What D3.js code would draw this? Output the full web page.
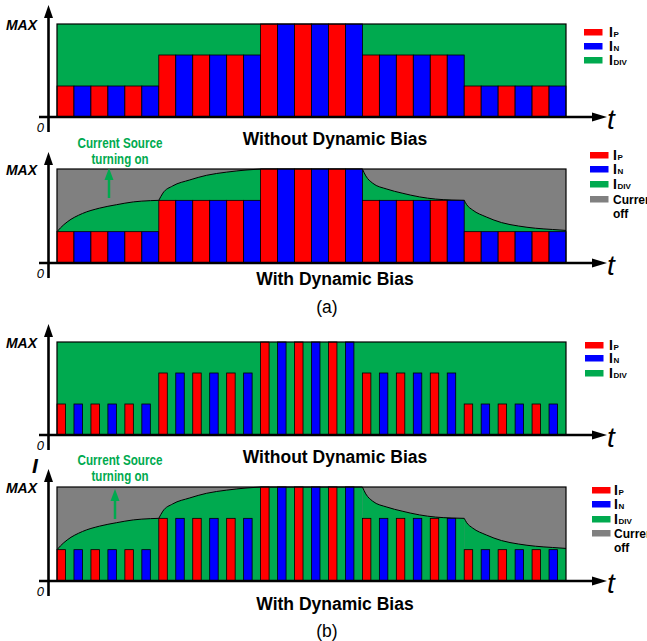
<!DOCTYPE html>
<html><head><meta charset="utf-8">
<script src="https://cdn.jsdelivr.net/npm/d3@7"></script>
<style>body{margin:0;background:#fff}svg{display:block}</style>
</head><body>
<svg id="c" width="647" height="641"></svg>
<script>
// ---- data ----
const slotCount = 30;
const barLevels = [1,1,1,1,1,1, 2,2,2,2,2,2, 3,3,3,3,3,3, 2,2,2,2,2,2, 1,1,1,1,1,1];
const barCurrents = ["P","N","P","N","P","N", "P","N","P","N","P","N", "P","N","P","N","P","N",
                     "P","N","P","N","P","N", "P","N","P","N","P","N"];
const levelMax = 3;
// dynamic-bias envelope of I_DIV (slot position, level)
const envRise1  = [[0,1.0],[0.2,1.12],[0.6,1.31],[1.5,1.58],[2.5,1.75],[3.5,1.86],[4.5,1.95],[5.5,1.99],[6,2.0]];
const envRise2  = [[6,2.0],[6.24,2.23],[6.82,2.46],[7.82,2.65],[8.82,2.8],[10,2.9],[11.2,2.97],[12,3.0]];
const envFlat   = [[12,3.0],[18,3.0]];
const envDecay1 = [[18,3.0],[18.2,2.78],[18.6,2.55],[19.44,2.36],[20.34,2.23],[21.36,2.11],[22.32,2.04],[23.28,2.01],[24,2.0]];
const envDecay2 = [[24,2.0],[24.15,1.86],[24.5,1.69],[25.3,1.47],[26.2,1.29],[27.2,1.18],[28.2,1.11],[29.2,1.07],[30,1.04]];
const envelope = [envRise1, envRise2, envFlat, envDecay1, envDecay2];
const legendLabels = [["I","P"],["I","N"],["I","DIV"]];
const legendOff = ["Current","off"];
const titles = ["Without Dynamic Bias","With Dynamic Bias","Without Dynamic Bias","With Dynamic Bias"];
const sourceNote = ["Current Source","turning on"];
const captions = ["(a)","(b)"];

// ---- styles ----
const colors = {P:"#ff0000", N:"#0000ff", DIV:"#00aa4f", OFF:"#808080"};
const green = colors.DIV;
const svg = d3.select("#c");

const panels = [
  {top:24,  base:117, dyn:false, half:false, axisTop:5,   legX:584, legY:[29,43,57],      labX:609, titleY:145},
  {top:169, base:263, dyn:true,  half:false, axisTop:152, legX:590, legY:[152,166,181,196], labX:613, titleY:285, noteY:148, arrowX:109, arrowBottom:198},
  {top:342, base:435, dyn:false, half:true,  axisTop:324, legX:585, legY:[342,355,370],   labX:609, titleY:463},
  {top:487, base:581, dyn:true,  half:true,  axisTop:469, legX:592, legY:[487,501,516,530], labX:614, titleY:610, noteY:465, arrowX:115, arrowBottom:519}
];

const xs = d3.scaleLinear().domain([0, slotCount]).range([57, 566]);

panels.forEach((p, pi) => {
  const g = svg.append("g");
  const ys = d3.scaleLinear().domain([0, levelMax]).range([p.base, p.top]);

  // background
  g.append("rect").attr("x", xs(0)).attr("y", ys(levelMax))
    .attr("width", xs(slotCount) - xs(0)).attr("height", ys(0) - ys(levelMax))
    .attr("fill", p.dyn ? colors.OFF : green);

  if (p.dyn) {
    const area = d3.area().x(d => xs(d[0])).y0(ys(0)).y1(d => ys(d[1])).curve(d3.curveMonotoneX);
    const line = d3.line().x(d => xs(d[0])).y(d => ys(d[1])).curve(d3.curveMonotoneX);
    envelope.forEach(seg => {
      g.append("path").attr("d", area(seg)).attr("fill", green);
    });
    envelope.forEach(seg => {
      g.append("path").attr("d", line(seg)).attr("fill", "none").attr("stroke", "#000").attr("stroke-width", 1);
    });
  }

  // bars
  g.selectAll("rect.bar").data(barLevels).join("rect").attr("class", "bar")
    .attr("x", (d, i) => xs(i))
    .attr("width", (d, i) => (xs(i + 1) - xs(i)) * (p.half ? 0.5 : 1))
    .attr("y", d => ys(d))
    .attr("height", d => ys(0) - ys(d))
    .attr("fill", (d, i) => colors[barCurrents[i]])
    .attr("stroke", "#000").attr("stroke-width", 0.8);

  // box outline
  g.append("rect").attr("x", xs(0)).attr("y", ys(levelMax))
    .attr("width", xs(slotCount) - xs(0)).attr("height", ys(0) - ys(levelMax))
    .attr("fill", "none").attr("stroke", "#000").attr("stroke-width", 1.2);

  // axes
  const ax = 48.5;
  g.append("line").attr("x1", ax).attr("x2", ax).attr("y1", p.base + 15).attr("y2", p.axisTop + 10)
    .attr("stroke", "#000").attr("stroke-width", 2.6);
  g.append("path").attr("d", `M${ax},${p.axisTop} L${ax - 4.5},${p.axisTop + 13} L${ax + 4.5},${p.axisTop + 13} Z`).attr("fill", "#000");
  g.append("line").attr("x1", 39).attr("x2", 596).attr("y1", ys(0)).attr("y2", ys(0))
    .attr("stroke", "#000").attr("stroke-width", 2.4);
  g.append("path").attr("d", `M607,${ys(0)} L592,${ys(0) - 4.5} L592,${ys(0) + 4.5} Z`).attr("fill", "#000");

  g.append("text").attr("x", 37).attr("y", ys(levelMax) + 5.5).attr("text-anchor", "end")
    .attr("font-family", "Liberation Sans, Arial, sans-serif").attr("font-weight", "bold")
    .attr("font-style", "italic").attr("font-size", 14).text("MAX");
  g.append("text").attr("x", 44).attr("y", ys(0) + 15).attr("text-anchor", "end")
    .attr("font-family", "Liberation Sans, Arial, sans-serif").attr("font-style", "italic")
    .attr("font-size", 13).text("0");
  g.append("text").attr("x", 607).attr("y", ys(0) + 11.5)
    .attr("font-family", "Liberation Sans, Arial, sans-serif").attr("font-style", "italic")
    .attr("font-size", 28).text("t");

  // title
  g.append("text").attr("x", 335).attr("y", p.titleY).attr("text-anchor", "middle")
    .attr("font-family", "Liberation Sans, Arial, sans-serif").attr("font-weight", "bold")
    .attr("font-size", 17.5).text(titles[pi]);

  // legend
  const keys = p.dyn ? ["P","N","DIV","OFF"] : ["P","N","DIV"];
  keys.forEach((k, i) => {
    g.append("rect").attr("x", p.legX).attr("y", p.legY[i]).attr("width", 18.5).attr("height", 6.5)
      .attr("fill", colors[k]);
    if (k !== "OFF") {
      const t = g.append("text").attr("x", p.labX).attr("y", p.legY[i] + 8)
        .attr("font-family", "Liberation Sans, Arial, sans-serif").attr("font-weight", "bold");
      t.append("tspan").attr("font-size", 14).text(legendLabels[i][0]);
      t.append("tspan").attr("font-size", 8).attr("dx", 0.5).text(legendLabels[i][1]);
    } else {
      legendOff.forEach((s, j) => {
        g.append("text").attr("x", p.labX).attr("y", p.legY[i] + 8 + j * 14)
          .attr("font-family", "Liberation Sans, Arial, sans-serif").attr("font-weight", "bold")
          .attr("font-size", 12).text(s);
      });
    }
  });

  // current source note
  if (p.dyn) {
    sourceNote.forEach((s, j) => {
      g.append("text").attr("x", 120).attr("y", p.noteY + j * 15.5).attr("text-anchor", "middle")
        .attr("font-family", "Liberation Sans Narrow, Arial Narrow, Liberation Sans, sans-serif")
        .attr("font-weight", "bold").attr("font-size", 14.5).attr("fill", green)
        .attr("textLength", j === 0 ? 85 : 57).attr("lengthAdjust", "spacingAndGlyphs").text(s);
    });
    g.append("line").attr("x1", p.arrowX).attr("x2", p.arrowX).attr("y1", p.arrowBottom).attr("y2", p.arrowBottom - 20)
      .attr("stroke", green).attr("stroke-width", 2.5);
    const tip = p.arrowBottom - 30;
    g.append("path").attr("d", `M${p.arrowX},${tip} L${p.arrowX - 4.5},${tip + 12} L${p.arrowX + 4.5},${tip + 12} Z`).attr("fill", green);
  }
});

// captions
[313, 637].forEach((y, i) => {
  svg.append("text").attr("x", 327).attr("y", y).attr("text-anchor", "middle")
    .attr("font-family", "Liberation Sans, Arial, sans-serif").attr("font-size", 17.5).text(captions[i]);
});
// "I" axis label on last panel
svg.append("text").attr("x", 32).attr("y", 473)
  .attr("font-family", "Liberation Sans, Arial, sans-serif").attr("font-weight", "bold")
  .attr("font-style", "italic").attr("font-size", 21).text("I");
</script>
</body></html>
